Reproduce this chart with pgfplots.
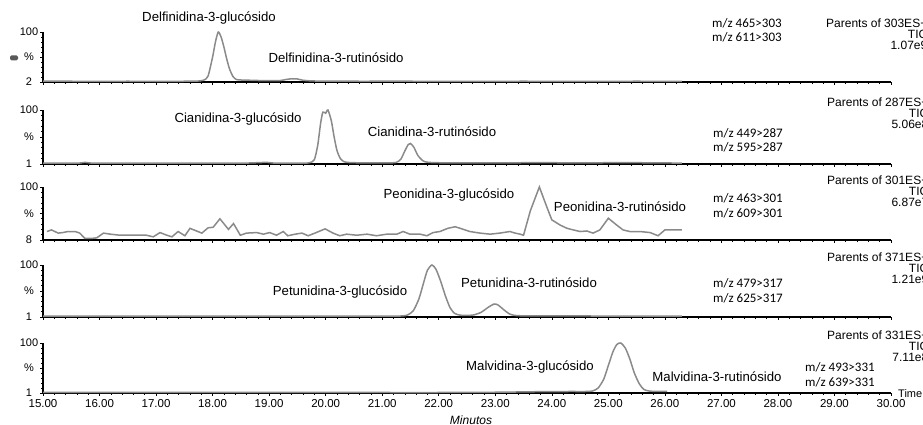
\documentclass[border=0pt]{standalone}
\usepackage{pgfplots}
\pgfplotsset{compat=1.18}
\usepackage{fontspec}
\setmainfont{Liberation Sans}
\newfontfamily\calfont{Carlito}
\definecolor{curvecol}{HTML}{8A8A8A}
\pgfplotsset{
 chrom/.style={
   scale only axis, width=848pt,
   xmin=15, xmax=30, ymin=0, ymax=100,
   axis x line=bottom, axis y line=left,
   axis line style={line width=1.2pt,-},
   xtick={15,...,30}, minor x tick num=4,
   xticklabels={},
   ytick={0,50,100},
   minor y tick num=4,
   tick align=outside,
   major tick length=3pt, minor tick length=2pt,
   tick style={black, line width=0.6pt},
   /pgf/number format/assume math mode=true,
   yticklabel style={font=\fontsize{11}{13}\selectfont, anchor=center, xshift=-11pt},
   xticklabel style={font=\fontsize{11.5}{13}\selectfont},
   clip=false,
 },
 curve/.style={color=curvecol, line width=1.5pt, no markers}
}
\begin{document}
\begin{tikzpicture}[x=1pt,y=1pt]
% Panel 1 Delfinidina
\begin{axis}[chrom, height=50pt, at={(43pt,343pt)}, anchor=south west, yticklabels={2,\%,100}]
\addplot[curve, smooth, tension=0.4] coordinates {
(15.0,1.5) (15.5,1.5) (16.0,1) (16.5,1.5) (17.0,1) (17.5,1.5) (17.75,2) (17.85,4)
(17.92,12) (18.0,50) (18.05,80) (18.1,100) (18.15,90) (18.2,70) (18.25,46) (18.3,26)
(18.36,11) (18.42,5) (18.5,4) (18.65,3.5) (18.8,3) (19.0,2.5) (19.2,3) (19.3,5) (19.4,6.5)
(19.5,6) (19.6,3.5) (19.8,2) (20.5,1.5) (21.5,1.5) (22.5,1) (23.5,1.5) (24.5,1) (25.5,1.5) (26.3,1)};
\end{axis}
% Panel 2 Cianidina
\begin{axis}[chrom, height=54pt, at={(43pt,261pt)}, anchor=south west, yticklabels={1,\%,100}]
\addplot[curve, smooth, tension=0.4] coordinates {
(15.0,1.5) (15.6,1.5) (15.74,3) (15.9,1.5) (16.5,1.5) (17.5,1.5) (18.5,1.5) (18.96,3) (19.1,1.5)
(19.6,1.5) (19.72,2.5) (19.8,8) (19.86,35) (19.91,75) (19.95,96) (20.0,94) (20.04,100)
(20.1,80) (20.15,50) (20.2,25) (20.26,10) (20.33,4) (20.45,2.5) (20.8,2) (21.1,2)
(21.25,3) (21.33,9) (21.4,24) (21.46,36) (21.5,38) (21.56,31) (21.63,16) (21.72,6) (21.82,3)
(22.2,2) (23.0,2) (23.8,2.5) (24.5,2) (25.2,2.5) (26.0,2) (26.3,1.5)};
\end{axis}
% Panel 3 Peonidina
\begin{axis}[chrom, height=53pt, at={(43pt,185pt)}, anchor=south west, yticklabels={8,\%,100}]
\addplot[curve] coordinates {
(15.07,16) (15.15,19) (15.27,13) (15.35,14) (15.44,16) (15.57,16) (15.65,13) (15.74,3)
(15.86,3) (15.95,4) (16.07,13) (16.19,11) (16.36,9) (16.54,9) (16.72,9) (16.83,9)
(16.95,6) (17.07,14) (17.19,9) (17.28,6) (17.39,16) (17.51,8) (17.6,22) (17.81,13)
(17.92,23) (18.01,24) (18.13,40) (18.28,20) (18.37,31) (18.49,9) (18.6,13) (18.78,14)
(18.9,11) (19.01,14) (19.13,9) (19.25,16) (19.33,8) (19.46,11) (19.58,13) (19.69,8)
(19.81,13) (19.99,21) (20.13,13) (20.25,8) (20.37,11) (20.55,9) (20.73,11) (20.9,8)
(21.08,11) (21.26,11) (21.37,16) (21.49,11) (21.67,11) (21.79,8) (21.9,14) (22.02,16)
(22.16,22) (22.29,25) (22.38,22) (22.55,16) (22.73,13) (22.91,11) (23.08,13) (23.26,16)
(23.35,13) (23.44,11) (23.5,9) (23.62,55) (23.78,100) (23.92,60) (24.0,38) (24.15,28)
(24.27,22) (24.38,19) (24.5,16) (24.62,17) (24.73,13) (24.85,19) (25.0,41) (25.15,28)
(25.26,19) (25.38,16) (25.56,16) (25.74,14) (25.88,8) (26.0,19) (26.14,19) (26.3,19)};
\end{axis}
% Panel 4 Petunidina
\begin{axis}[chrom, height=52pt, at={(43pt,108pt)}, anchor=south west, yticklabels={1,\%,100}]
\addplot[curve, smooth, tension=0.4] coordinates {
(15.0,1.5) (16.0,1.5) (17.0,1.5) (18.0,1.5) (19.0,1.5) (20.0,1.5) (21.0,1.5) (21.35,2)
(21.45,4) (21.55,12) (21.65,35) (21.73,65) (21.8,90) (21.88,100) (21.95,92) (22.03,70)
(22.12,40) (22.2,18) (22.28,7) (22.38,3.5) (22.5,3) (22.62,4) (22.75,9) (22.88,19) (22.98,25)
(23.05,23) (23.15,14) (23.25,6) (23.35,3) (23.6,2) (24.5,2) (25.5,1.5) (26.3,1.5)};
\end{axis}
% Panel 5 Malvidina
\begin{axis}[chrom, height=50pt, at={(43pt,32pt)}, anchor=south west, yticklabels={1,\%,100},
  xticklabels={15.00,16.00,17.00,18.00,19.00,20.00,21.00,22.00,23.00,24.00,25.00,26.00,27.00,28.00,29.00,30.00}]
\addplot[curve, smooth, tension=0.4] coordinates {
(15.0,1) (16.0,1) (17.0,1) (18.0,1) (19.0,1) (20.0,1) (21.0,1) (22.0,1) (23.0,1.5)
(23.7,2.5) (24.3,3) (24.6,3) (24.72,4) (24.82,10) (24.92,28) (25.0,55) (25.08,82) (25.15,97)
(25.22,100) (25.3,90) (25.38,68) (25.46,40) (25.55,18) (25.63,7) (25.72,4) (25.85,3) (26.04,3.5)};
\end{axis}
% dark mark beside the first %
\fill[black!65, rounded corners=1.5pt] (10,364.5) rectangle (18,369.5);
% compound labels
\begin{scope}[every node/.style={font=\fontsize{13.2}{15}\selectfont, inner sep=0pt}]
\node at (209,407) {Delfinidina-3-glucósido};
\node at (336,367) {Delfinidina-3-rutinósido};
\node at (238,306) {Cianidina-3-glucósido};
\node at (432,293) {Cianidina-3-rutinósido};
\node at (449,230) {Peonidina-3-glucósido};
\node at (620,218) {Peonidina-3-rutinósido};
\node at (340,133) {Petunidina-3-glucósido};
\node at (529,142) {Petunidina-3-rutinósido};
\node at (530,58) {Malvidina-3-glucósido};
\node at (717,48) {Malvidina-3-rutinósido};
\end{scope}
% m/z labels
\begin{scope}[every node/.style={font=\calfont\fontsize{13}{15}\selectfont, inner sep=0pt, anchor=west}]
\node at (712,402) {m/z 465>303};
\node at (712,388) {m/z 611>303};
\node at (713,292) {m/z 449>287};
\node at (713,278) {m/z 595>287};
\node at (713,227) {m/z 463>301};
\node at (713,212) {m/z 609>301};
\node at (713,142) {m/z 479>317};
\node at (713,127) {m/z 625>317};
\node at (805,58) {m/z 493>331};
\node at (805,43) {m/z 639>331};
\end{scope}
% Parents labels
\begin{scope}[every node/.style={font=\fontsize{12}{11}\selectfont, inner sep=0pt, anchor=north west, align=right}]
\node at (826,406) {Parents of 303ES+\\TIC\\1.07e9};
\node at (827,327) {Parents of 287ES+\\TIC\\5.06e8};
\node at (827,249) {Parents of 301ES+\\TIC\\6.87e7};
\node at (827,172) {Parents of 371ES+\\TIC\\1.21e9};
\node at (827,94) {Parents of 331ES+\\TIC\\7.11e8};
\end{scope}
\node[font=\fontsize{11}{13}\selectfont, anchor=west, inner sep=0pt] at (898,31) {Time};
\node[font=\itshape\fontsize{12}{14}\selectfont, inner sep=0pt] at (471,5) {Minutos};
\pgfresetboundingbox
\useasboundingbox (0,0) rectangle (923,425);
\end{tikzpicture}
\end{document}
